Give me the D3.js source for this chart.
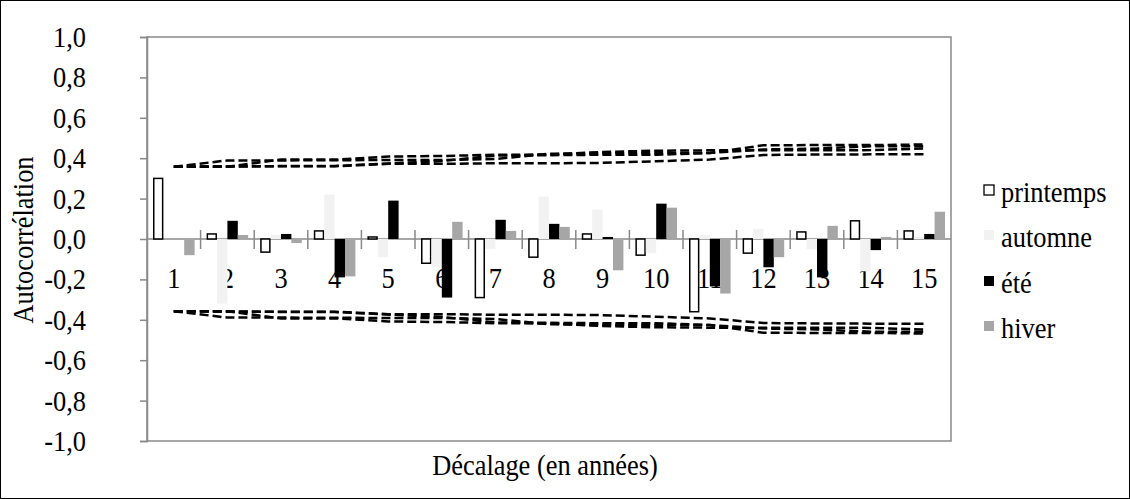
<!DOCTYPE html>
<html><head><meta charset="utf-8">
<script src="https://cdn.jsdelivr.net/npm/d3@7"></script>
<style>body{margin:0;background:#fff}text{font-family:"Liberation Serif","Times New Roman",serif;fill:#000}</style>
</head><body><svg id="c" width="1130" height="499"></svg>
<script>
const categories = ["1","2","3","4","5","6","7","8","9","10","11","12","13","14","15"];
const seriesNames = ["printemps","automne","été","hiver"];
const printemps = [0.30,0.025,-0.065,0.04,0.01,-0.12,-0.29,-0.09,0.025,-0.08,-0.36,-0.07,0.035,0.09,0.04];
const automne   = [0.0,-0.32,0.02,0.22,-0.09,-0.14,-0.05,0.21,0.145,-0.07,0.02,0.05,-0.05,-0.16,0.01];
const ete       = [0.0,0.09,0.025,-0.19,0.19,-0.29,0.095,0.075,0.01,0.175,-0.235,-0.14,-0.19,-0.055,0.025];
const hiver     = [-0.08,0.02,-0.02,-0.185,0.005,0.085,0.04,0.06,-0.155,0.155,-0.27,-0.09,0.065,0.01,0.135];
// confidence bounds (upper; lower is the negative)
const boundPrintemps = [0.358,0.389,0.389,0.390,0.391,0.391,0.396,0.422,0.424,0.425,0.426,0.464,0.465,0.465,0.468];
const boundAutomne   = [0.358,0.358,0.393,0.393,0.408,0.411,0.417,0.418,0.431,0.437,0.439,0.439,0.439,0.440,0.448];
const boundEte       = [0.358,0.358,0.361,0.361,0.374,0.386,0.413,0.415,0.417,0.417,0.426,0.443,0.448,0.459,0.459];
const boundHiver     = [0.358,0.360,0.360,0.360,0.372,0.372,0.375,0.375,0.377,0.385,0.393,0.416,0.418,0.419,0.419];
const yTicks = [-1,-0.8,-0.6,-0.4,-0.2,0,0.2,0.4,0.6,0.8,1];

const values = [printemps, automne, ete, hiver];
const bounds = [boundPrintemps, boundAutomne, boundEte, boundHiver];
const fills = ["#ffffff","#f2f2f2","#000000","#a6a6a6"];
const strokes = ["#000000","none","none","none"];

const svg = d3.select("#c");
const L = 147, R = 951, T = 37, B = 441;
const SX = 0.88, FS = 30;

svg.append("rect").attr("x",0.5).attr("y",0.5).attr("width",1129).attr("height",498)
  .attr("fill","#fff").attr("stroke","#000").attr("stroke-width",1);

const x0 = d3.scaleBand().domain(categories).range([L, R]).padding(0);
const x1 = d3.scaleBand().domain(seriesNames).range([6, x0.bandwidth()-6]).padding(0);
const y = d3.scaleLinear().domain([-1,1]).range([B, T]);

function txt(g, x, yy, s, anchor, size, rot) {
  return g.append("text")
    .attr("transform", `translate(${x},${yy})` + (rot ? ` rotate(${rot})` : "") + ` scale(${SX},1)`)
    .attr("text-anchor", anchor).attr("font-size", size).text(s);
}

// plot frame
svg.append("rect").attr("x",L).attr("y",T).attr("width",R-L).attr("height",B-T)
  .attr("fill","none").attr("stroke","#898989").attr("stroke-width",1.5);

// y axis
const yAxis = d3.axisLeft(y).tickValues(yTicks).tickSize(7).tickFormat("");
const yg = svg.append("g").attr("transform",`translate(${L},0)`).call(yAxis);
yg.select(".domain").attr("stroke","#898989").attr("stroke-width",1.5);
yg.selectAll(".tick line").attr("stroke","#898989").attr("stroke-width",1.5);
const fmt = v => d3.format(".1f")(v).replace(".",",").replace("−","-");
yTicks.forEach(v => txt(svg, 86, y(v)+10, fmt(v), "end", FS));

// category labels (behind bars)
categories.forEach(c => txt(svg, x0(c)+x0.bandwidth()/2, 288, c, "middle", FS));

// zero axis with crossing ticks at category boundaries
svg.append("line").attr("x1",L).attr("x2",R).attr("y1",y(0)).attr("y2",y(0))
  .attr("stroke","#898989").attr("stroke-width",1.5);
categories.forEach((c,i) => { if (i>0) svg.append("line").attr("x1",x0(c)).attr("x2",x0(c))
  .attr("y1",y(0)-9).attr("y2",y(0)+10).attr("stroke","#898989").attr("stroke-width",1.5); });

// bars
seriesNames.forEach((s, si) => {
  svg.append("g").selectAll("rect").data(values[si]).join("rect")
    .attr("x", (d,i) => x0(categories[i]) + x1(s) + (si===0?0.75:0))
    .attr("width", x1.bandwidth() - (si===0?1.5:0))
    .attr("y", d => Math.min(y(d), y(0)))
    .attr("height", d => Math.abs(y(d)-y(0)))
    .attr("fill", fills[si]).attr("stroke", strokes[si]).attr("stroke-width", si===0?1.5:0);
});

// dashed confidence lines
const line = d3.line().x((d,i) => x0(categories[i]) + x0.bandwidth()/2).y(d => y(d));
bounds.forEach(b => {
  [1,-1].forEach(sg => {
    svg.append("path").datum(b.map(v => v*sg)).attr("d", line)
      .attr("fill","none").attr("stroke","#000").attr("stroke-width",2.5)
      .attr("stroke-dasharray","9,4");
  });
});

// axis titles
txt(svg, 33, 240, "Autocorrélation", "middle", FS, -90);
txt(svg, 545, 475, "Décalage (en années)", "middle", FS);

// legend
const lBase = [202, 247, 293, 338];
seriesNames.forEach((s, si) => {
  svg.append("rect").attr("x",984).attr("y",lBase[si]-17).attr("width",10).attr("height",10)
    .attr("fill",fills[si]).attr("stroke",strokes[si]).attr("stroke-width",si===0?1.3:0);
  txt(svg, 1001, lBase[si], s, "start", FS);
});
</script></body></html>
